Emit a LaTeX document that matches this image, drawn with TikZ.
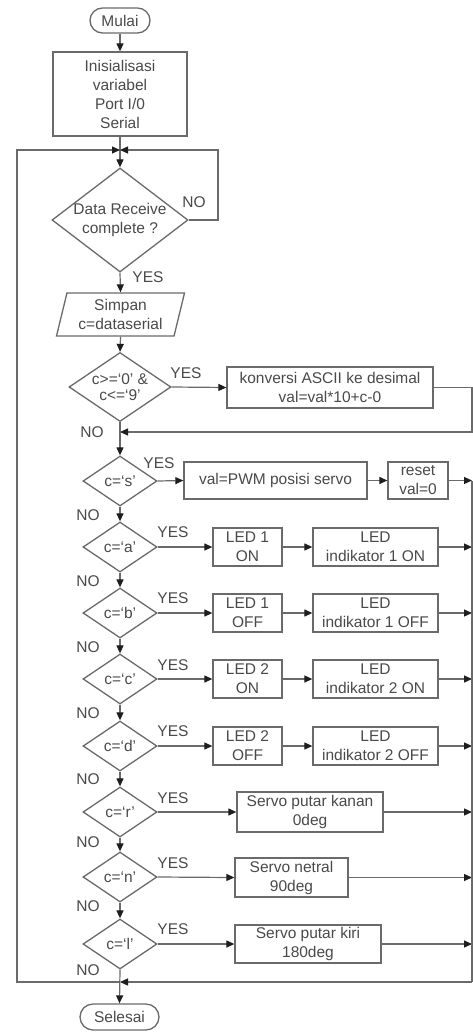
\documentclass[tikz,border=0pt]{standalone}
\usepackage{fontspec}
\setmainfont{Liberation Sans}
\usetikzlibrary{shapes.geometric,arrows.meta,calc}
\definecolor{ln}{HTML}{6A6A6A}
\definecolor{tx}{HTML}{4A4A4A}
\definecolor{tp}{HTML}{1E1E1E}
\begin{document}
\begin{tikzpicture}[x=1pt,y=-1pt,
 every node/.style={font=\fontsize{15.5}{19}\selectfont, text=tx},
 box/.style={draw=ln,line width=1.3pt,rectangle,inner sep=0pt,align=center},
 dia/.style={draw=ln,line width=1.3pt,diamond,inner sep=0pt,minimum width=74pt,minimum height=50pt},
 dlbl/.style={align=center,inner sep=0pt},
 line/.style={draw=ln,line width=1.2pt},
 arr/.style={line,-{Triangle[length=8pt,width=7pt,color=tp]}},
 lbl/.style={inner sep=0pt}]
\useasboundingbox (0,0) rectangle (472,1032);
\fill[white] (0,0) rectangle (472,1032);

% nodes
\node[box,rounded corners=12.5pt,minimum width=60pt,minimum height=25pt] (mulai) at (120,20.5) {Mulai};
\node[box,minimum width=134pt,minimum height=84pt] (init) at (120,94) {Inisialisasi\\variabel\\Port I/0\\Serial};
\coordinate (j1) at (120,150);
\node[dia,minimum width=136pt,minimum height=104pt,label={[dlbl]center:{Data Receive\\complete ?}}] (drc) at (120,220) {};
\coordinate (nr) at (218,220);
\node[box,trapezium,trapezium left angle=71,trapezium right angle=109,trapezium stretches body,minimum width=128pt,minimum height=43pt] (simp) at (120.5,314.5) {Simpan\\c=dataserial};
\node[dia,minimum width=102pt,minimum height=69pt,label={[dlbl,font=\fontsize{15.5}{16.5}\selectfont]center:{c>=‘0’ \&\\c<=‘9’}}] (d0) at (120,387) {};
\node[box,minimum width=206pt,minimum height=41pt] (conv) at (330,387.5) {konversi ASCII ke desimal\\val=val*10+c-0};
\coordinate (j2) at (120,432);
\coordinate (rtop) at (472,481);
\coordinate (rbot) at (472,982);
\coordinate (j3) at (120,982);
\coordinate (lc) at (17,982);

\node[dia,label={[dlbl]center:{c=‘s’}}] (ds) at (120,481) {};
\node[box,minimum width=183pt,minimum height=37pt] (pwm) at (275.5,480.5) {val=PWM posisi servo};
\node[box,minimum width=60pt,minimum height=37pt] (reset) at (418,480.5) {reset\\val=0};

\node[dia,label={[dlbl]center:{c=‘a’}}] (da) at (120,547) {};
\node[box,minimum width=69pt,minimum height=38pt] (l1on) at (247.5,547) {LED 1\\ON};
\node[box,minimum width=125pt,minimum height=38pt] (i1on) at (375.5,547) {LED\\indikator 1 ON};

\node[dia,label={[dlbl]center:{c=‘b’}}] (db) at (120,613) {};
\node[box,minimum width=69pt,minimum height=38pt] (l1off) at (247.5,613) {LED 1\\OFF};
\node[box,minimum width=125pt,minimum height=38pt] (i1off) at (375.5,613) {LED\\indikator 1 OFF};

\node[dia,label={[dlbl]center:{c=‘c’}}] (dc) at (120,679) {};
\node[box,minimum width=69pt,minimum height=38pt] (l2on) at (247.5,679) {LED 2\\ON};
\node[box,minimum width=125pt,minimum height=38pt] (i2on) at (375.5,679) {LED\\indikator 2 ON};

\node[dia,label={[dlbl]center:{c=‘d’}}] (dd) at (120,746) {};
\node[box,minimum width=69pt,minimum height=38pt] (l2off) at (247.5,746) {LED 2\\OFF};
\node[box,minimum width=125pt,minimum height=38pt] (i2off) at (375.5,746) {LED\\indikator 2 OFF};

\node[dia,label={[dlbl]center:{c=‘r’}}] (dr) at (120,812) {};
\node[box,minimum width=146pt,minimum height=40pt] (skan) at (310,812) {Servo putar kanan\\0deg};

\node[dia,label={[dlbl]center:{c=‘n’}}] (dn) at (120,877) {};
\node[box,minimum width=113pt,minimum height=39pt] (snet) at (291.5,877.5) {Servo netral\\90deg};

\node[dia,label={[dlbl]center:{c=‘l’}}] (dl) at (120,944) {};
\node[box,minimum width=146pt,minimum height=38pt] (skir) at (308,944) {Servo putar kiri\\180deg};

\node[box,rounded corners=13pt,minimum width=79pt,minimum height=26pt] (sel) at (119.5,1017) {Selesai};

% connectors
\draw[arr] (mulai) -- (init);
\draw[line] (init.south) -- (j1);
\draw[arr] (j1) -- (drc.north);
\draw[arr] (drc.east) -- (drc.east -| nr) |- (j1);
\draw[arr] (drc.south) -- (simp.north);
\draw[arr] (simp.south) -- (d0.north);
\draw[arr] (d0.east) -- (conv.west);
\draw[arr] (conv.east) -- (conv.east -| rtop) |- (j2);
\draw[line] (d0.south) -- (j2);
\draw[arr] (j2) -- (ds.north);

\draw[arr] (ds.south) -- (da.north);
\draw[arr] (da.south) -- (db.north);
\draw[arr] (db.south) -- (dc.north);
\draw[arr] (dc.south) -- (dd.north);
\draw[arr] (dd.south) -- (dr.north);
\draw[arr] (dr.south) -- (dn.north);
\draw[arr] (dn.south) -- (dl.north);
\draw[arr] (dl.south) -- (sel.north);

\draw[arr] (ds.east) -- (pwm.west);
\draw[arr] (pwm.east) -- (reset.west);
\draw[arr] (reset.east) -- (reset.east -| rtop);
\draw[arr] (da.east) -- (l1on.west);
\draw[arr] (l1on.east) -- (i1on.west);
\draw[arr] (i1on.east) -- (i1on.east -| rtop);
\draw[arr] (db.east) -- (l1off.west);
\draw[arr] (l1off.east) -- (i1off.west);
\draw[arr] (i1off.east) -- (i1off.east -| rtop);
\draw[arr] (dc.east) -- (l2on.west);
\draw[arr] (l2on.east) -- (i2on.west);
\draw[arr] (i2on.east) -- (i2on.east -| rtop);
\draw[arr] (dd.east) -- (l2off.west);
\draw[arr] (l2off.east) -- (i2off.west);
\draw[arr] (i2off.east) -- (i2off.east -| rtop);
\draw[arr] (dr.east) -- (skan.west);
\draw[arr] (skan.east) -- (skan.east -| rtop);
\draw[arr] (dn.east) -- (snet.west);
\draw[arr] (snet.east) -- (snet.east -| rtop);
\draw[arr] (dl.east) -- (skir.west);
\draw[arr] (skir.east) -- (skir.east -| rtop);

\draw[line] (rtop) -- (rbot);
\draw[arr] (rbot) -- (j3);
\draw[arr] (j3) -- (lc) |- (j1);

% labels
\node[lbl] at (194,202) {NO};
\node[lbl] at (148,277) {YES};
\node[lbl] at (186,373) {YES};
\node[lbl] at (92,432) {NO};
\node[lbl] at (159,463) {YES};
\node[lbl] at (88,515) {NO};
\node[lbl] at (173,532) {YES};
\node[lbl] at (88,581) {NO};
\node[lbl] at (173,598) {YES};
\node[lbl] at (88,647) {NO};
\node[lbl] at (173,665) {YES};
\node[lbl] at (88,713) {NO};
\node[lbl] at (173,731) {YES};
\node[lbl] at (88,779) {NO};
\node[lbl] at (173,798) {YES};
\node[lbl] at (88,842) {NO};
\node[lbl] at (173,863) {YES};
\node[lbl] at (88,906) {NO};
\node[lbl] at (173,929) {YES};
\node[lbl] at (88,970) {NO};
\end{tikzpicture}
\end{document}
